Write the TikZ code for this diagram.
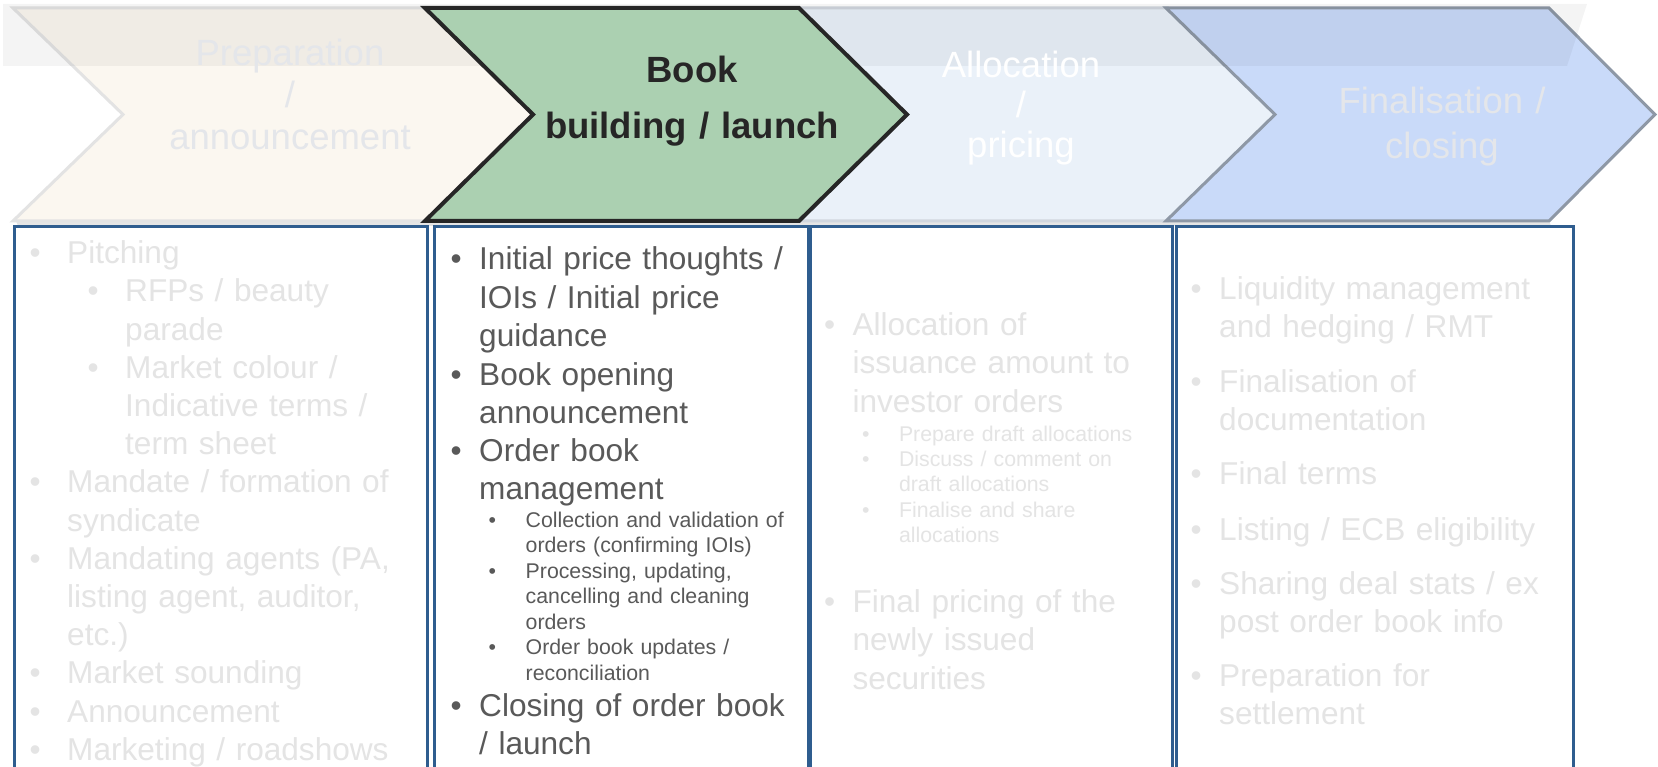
\documentclass[tikz,border=0pt]{standalone}
\usepackage{fontspec}
\setmainfont{Liberation Sans}
\usepackage{tikz}
\usetikzlibrary{positioning}

\definecolor{cream}{HTML}{FBF7F0}
\definecolor{creamline}{HTML}{E3E3E3}
\definecolor{bookgreen}{HTML}{ABD0B1}
\definecolor{bookline}{HTML}{262626}
\definecolor{allocfill}{HTML}{EAF1F9}
\definecolor{allocline}{HTML}{D0D6DE}
\definecolor{finfill}{HTML}{C9DAF9}
\definecolor{finline}{HTML}{8E98A6}
\definecolor{panelblue}{HTML}{2F5D8F}
\definecolor{faded}{HTML}{E4E4E4}
\definecolor{fadedhead}{HTML}{E4E6EA}
\definecolor{darktext}{HTML}{595959}

\tikzstyle{chevron}  = [line width=3pt, line join=miter]
\tikzstyle{head}     = [text width=400pt, align=center, anchor=base, inner sep=0pt]
\tikzstyle{panel}    = [draw=panelblue, line width=3pt, anchor=north west, inner sep=0pt, outer sep=0pt, minimum height=600pt]
\tikzstyle{maintext} = [font=\fontsize{31.6}{38.3}\selectfont]
\tikzstyle{subtext}  = [font=\fontsize{21.3}{25.4}\selectfont]
\tikzset{entry/.style={anchor=base west, inner sep=0pt, text width=380pt,
    execute at begin node={\llap{\makebox[#1][l]{\textbullet}}}}}

\begin{document}
\begin{tikzpicture}[x=1pt, y=-1pt]
	\useasboundingbox (0,0) rectangle (1658,767);
	\clip (0,0) rectangle (1658,767);
	\fill[white] (0,0) rectangle (1658,767);

	% phase arrows
	\fill[black!10] (16,221) -- (1549,221) -- (1551,226) -- (18,226) -- cycle;
	\draw[chevron, fill=cream, draw=creamline] (13,8) -- (428,8) -- (535,114.5) -- (428,221) -- (13,221) -- (123,114.5) -- cycle;
	\draw[chevron, fill=allocfill, draw=allocline] (799,8) -- (1168,8) -- (1277,114.5) -- (1168,221) -- (799,221) -- (907,114.5) -- cycle;
	\draw[chevron, fill=finfill, draw=finline] (1166,8) -- (1549,8) -- (1655,114.5) -- (1549,221) -- (1166,221) -- (1275,114.5) -- cycle;
	\fill[black, fill opacity=0.045] (3,4) -- (1587,4) -- (1567,66) -- (3,66) -- cycle;
	\draw[chevron, line width=4pt, fill=bookgreen, draw=bookline] (425,8) -- (799,8) -- (907,114.5) -- (799,221) -- (425,221) -- (533,114.5) -- cycle;

	\node[head, text=fadedhead, font=\fontsize{36.5}{42}\selectfont] (prep) at (290,66) {Preparation\\/\\announcement};
	\node[head, text=bookline, font=\fontsize{36.5}{56}\bfseries\selectfont] (book) at (692,83) {Book\\building / launch};
	\node[head, text=white, font=\fontsize{36.5}{40}\selectfont] (alloc) at (1021,78) {Allocation\\/\\pricing};
	\node[head, text=fadedhead, font=\fontsize{36.5}{44.5}\selectfont] (fin) at (1442,114) {Finalisation /\\closing};

	% detail panels
	\node[panel, minimum width=413pt] (prepbox) at (14,227) {};
	\node[panel, minimum width=374pt] (bookbox) at (434,227) {};
	\node[panel, minimum width=362pt] (allocbox) at (810,227) {};
	\node[panel, minimum width=397pt] (finbox) at (1176,227) {};

	\node[entry=37.5pt, maintext, text=faded] (pitch) at (67,263.6) {Pitching};
	\node[entry=37.5pt, maintext, text=faded] (rfp) at (125,301.8) {RFPs / beauty\\parade};
	\node[entry=37.5pt, maintext, text=faded] (colour) at (125,378.2) {Market colour /\\Indicative terms /\\term sheet};
	\node[entry=37.5pt, maintext, text=faded] (mandate) at (67,492.8) {Mandate / formation of\\syndicate};
	\node[entry=37.5pt, maintext, text=faded] (agents) at (67,569.2) {Mandating agents (PA,\\listing agent, auditor,\\etc.)};
	\node[entry=37.5pt, maintext, text=faded] (sounding) at (67,683.8) {Market sounding};
	\node[entry=37.5pt, maintext, text=faded] (announce) at (67,722) {Announcement};
	\node[entry=37.5pt, maintext, text=faded] (roadshow) at (67,760.2) {Marketing / roadshows};

	\node[entry=28.5pt, maintext, text=darktext] (thoughts) at (479,270) {Initial price thoughts /\\IOIs / Initial price\\guidance};
	\node[entry=28.5pt, maintext, text=darktext] (opening) at (479,385) {Book opening\\announcement};
	\node[entry=28.5pt, maintext, text=darktext] (orderbook) at (479,461.5) {Order book\\management};
	\node[entry=37pt, subtext, text=darktext] (collect) at (525.5,527.5) {Collection and validation of\\orders (confirming IOIs)};
	\node[entry=37pt, subtext, text=darktext] (process) at (525.5,578.5) {Processing, updating,\\cancelling and cleaning\\orders};
	\node[entry=37pt, subtext, text=darktext] (updates) at (525.5,654.6) {Order book updates /\\reconciliation};
	\node[entry=28.5pt, maintext, text=darktext] (closebook) at (479,716) {Closing of order book\\/ launch};

	\node[entry=28.5pt, maintext, text=faded] (issuance) at (852.3,335.5) {Allocation of\\issuance amount to\\investor orders};
	\node[entry=37pt, subtext, text=faded] (draft) at (898.8,441) {Prepare draft allocations};
	\node[entry=37pt, subtext, text=faded] (discuss) at (898.8,466.4) {Discuss / comment on\\draft allocations};
	\node[entry=37pt, subtext, text=faded] (share) at (898.8,517) {Finalise and share\\allocations};
	\node[entry=28.5pt, maintext, text=faded] (pricing) at (852.3,612.6) {Final pricing of the\\newly issued\\securities};

	\node[entry=28.5pt, maintext, text=faded] (liquidity) at (1219,299.6) {Liquidity management\\and hedging / RMT};
	\node[entry=28.5pt, maintext, text=faded] (docs) at (1219,392.6) {Finalisation of\\documentation};
	\node[entry=28.5pt, maintext, text=faded] (terms) at (1219,484.6) {Final terms};
	\node[entry=28.5pt, maintext, text=faded] (ecb) at (1219,540.6) {Listing / ECB eligibility};
	\node[entry=28.5pt, maintext, text=faded] (stats) at (1219,594.6) {Sharing deal stats / ex\\post order book info};
	\node[entry=28.5pt, maintext, text=faded] (settle) at (1219,686.6) {Preparation for\\settlement};
\end{tikzpicture}
\end{document}
